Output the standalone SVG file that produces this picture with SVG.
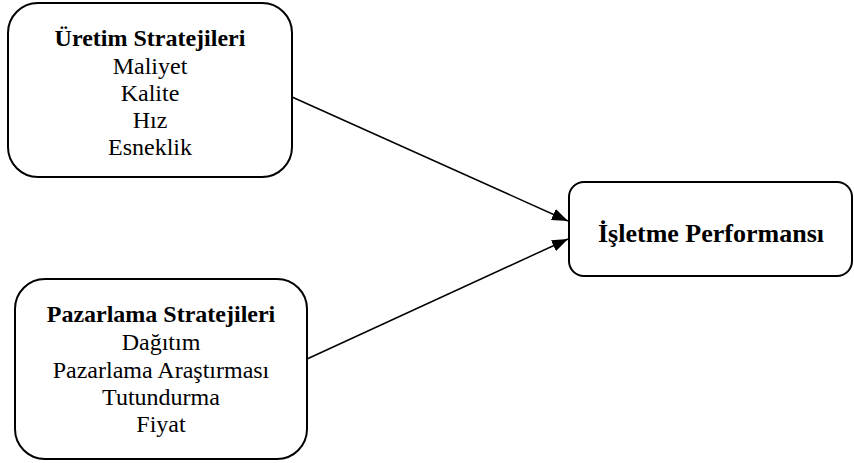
<svg xmlns="http://www.w3.org/2000/svg" width="854" height="463" viewBox="0 0 854 463">
<style>
.box{fill:#fff;stroke:#000;stroke-width:2}
.t{font-family:"Liberation Serif","Times New Roman",serif;font-size:24px;text-anchor:middle;fill:#000}
.b{font-weight:bold}
.line{stroke:#000;stroke-width:1.5;fill:none}
</style>
<defs>
<marker id="ah2" viewBox="0 0 16 12" refX="16" refY="6" markerWidth="16" markerHeight="12" markerUnits="userSpaceOnUse" orient="auto">
<path d="M0,0 L16,6 L0,12 z" fill="#000"/>
</marker>
</defs>
<rect width="854" height="463" fill="#fff"/>
<g id="connectors">
<line class="line" x1="292" y1="97" x2="568" y2="221" marker-end="url(#ah2)"/>
<line class="line" x1="307" y1="359" x2="568" y2="239" marker-end="url(#ah2)"/>
</g>
<g id="uretim">
<rect class="box" x="8" y="3" width="284" height="174" rx="30" ry="30"/>
<text class="t b" x="150" y="46">Üretim Stratejileri</text>
<text class="t" x="150" y="74">Maliyet</text>
<text class="t" x="150" y="101">Kalite</text>
<text class="t" x="150" y="128">Hız</text>
<text class="t" x="150" y="155">Esneklik</text>
</g>
<g id="pazarlama">
<rect class="box" x="15" y="279" width="292" height="180" rx="30" ry="30"/>
<text class="t b" x="161" y="322">Pazarlama Stratejileri</text>
<text class="t" x="161" y="350">Dağıtım</text>
<text class="t" x="161" y="378">Pazarlama Araştırması</text>
<text class="t" x="161" y="405">Tutundurma</text>
<text class="t" x="161" y="432">Fiyat</text>
</g>
<g id="performans">
<rect class="box" x="569" y="182" width="283" height="94" rx="15" ry="15"/>
<text class="t b" x="711" y="242" style="font-size:26px">İşletme Performansı</text>
</g>
</svg>
